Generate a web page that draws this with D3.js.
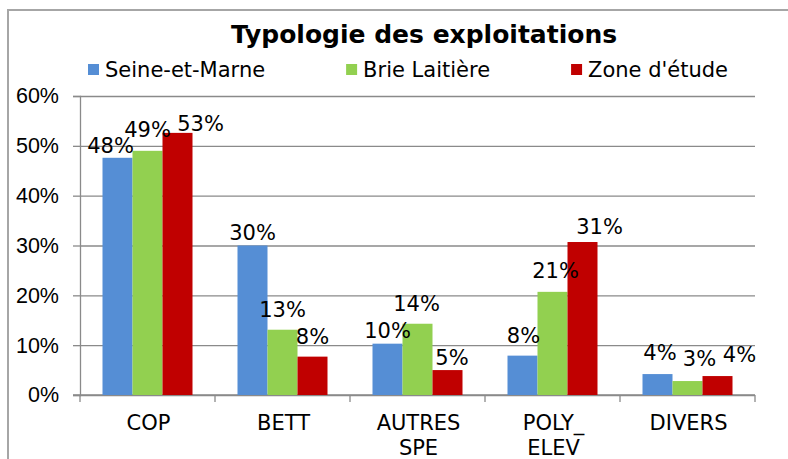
<!DOCTYPE html>
<html>
<head>
<meta charset="utf-8">
<script src="https://cdn.jsdelivr.net/npm/d3@7"></script>
<style>
  body { margin: 0; background: #fff; }
  svg { display: block; font-family: "DejaVu Sans", Verdana, sans-serif; }
</style>
</head>
<body>
<div id="app"></div>
<script>
const categories = [['COP'], ['BETT'], ['AUTRES', 'SPE'], ['POLY_', 'ELEV'], ['DIVERS']]
const seriesNames = ['Seine-et-Marne', 'Brie Laitière', "Zone d'étude"]
const seineEtMarne = [47.6, 30.0, 10.3, 7.9, 4.2]
const brieLaitiere = [49.0, 13.1, 14.3, 20.7, 2.8]
const zoneEtude = [52.6, 7.7, 5.0, 30.7, 3.8]
const yTicks = [0, 10, 20, 30, 40, 50, 60]
const colors = ['#558ed5', '#92d050', '#c00000']
// hand-moved data labels in the original (dx, dy from the default spot)
const labelNudge = [
    [[-7, 1.6], [0, 0], [0, 0], [1, -6.4], [2.5, -8]],
    [[0, -7.4], [0, -7], [-1, -7], [3, -7.4], [12, -9]],
    [[23, 4.4], [0, -6.7], [4.5, 1], [17, -1.7], [22, -8.3]],
]

const width = 788
const height = 459
const margin = { top: 96, left: 80, right: 33, bottom: 64 }
const values = [seineEtMarne, brieLaitiere, zoneEtude]
const keys = categories.map(c => c.join(' '))

const svg = d3.select('#app').append('svg')
    .attr('width', width)
    .attr('height', height)

// outer frame, only left and top edges are visible
svg.append('path')
    .attr('d', `M8,${height} V10 H${width}`)
    .attr('fill', 'none')
    .attr('stroke', '#a6a6a6')
    .attr('stroke-width', 2)

const x0 = d3.scaleBand()
    .domain(keys)
    .range([margin.left, width - margin.right])
    .paddingInner(0)
    .paddingOuter(0)

const x1 = d3.scaleBand()
    .domain(seriesNames)
    .range([22.5, x0.bandwidth() - 22.5])

const y = d3.scaleLinear()
    .domain([0, 60])
    .range([height - margin.bottom, margin.top])

// gridlines + y axis
const yAxis = g => g
    .attr('transform', `translate(${margin.left},0)`)
    .call(d3.axisLeft(y).tickValues(yTicks).tickSize(7).tickPadding(14).tickFormat(d => d + '%'))
    .call(g => g.selectAll('.tick line').clone()
        .attr('x2', width - margin.right - margin.left))
    .call(g => g.selectAll('line, path').attr('stroke', '#8a8a8a').attr('stroke-width', 1.3))
    .call(g => g.selectAll('text')
        .attr('fill', '#000')
        .attr('font-size', 21.5)
        .attr('font-family', null))

svg.append('g').call(yAxis)

// x axis with ticks between categories
const xAxis = svg.append('g')
xAxis.append('line')
    .attr('x1', margin.left - 7).attr('x2', width - margin.right)
    .attr('y1', y(0)).attr('y2', y(0))
    .attr('stroke', '#8a8a8a').attr('stroke-width', 1.3)
xAxis.selectAll('.xtick')
    .data(keys.map(k => x0(k)).concat([x0.range()[1]]))
    .join('line')
    .attr('x1', d => d).attr('x2', d => d)
    .attr('y1', y(0)).attr('y2', y(0) + 7)
    .attr('stroke', '#8a8a8a').attr('stroke-width', 1.3)

xAxis.selectAll('.cat')
    .data(categories)
    .join('text')
    .attr('text-anchor', 'middle')
    .attr('font-size', 21)
    .attr('fill', '#000')
    .attr('transform', (d, i) => `translate(${x0(keys[i]) + x0.bandwidth() / 2 + 1},${y(0) + 35})`)
    .selectAll('tspan')
    .data(d => d)
    .join('tspan')
    .attr('x', 0)
    .attr('y', (d, i) => i * 25)
    .text(d => d)

// bars
const groups = svg.append('g')
    .selectAll('g')
    .data(seriesNames)
    .join('g')
    .attr('fill', (d, i) => colors[i])

groups.selectAll('rect')
    .data((s, si) => values[si].map((v, ci) => ({ s, si, ci, v })))
    .join('rect')
    .attr('x', d => x0(keys[d.ci]) + x1(d.s))
    .attr('y', d => y(d.v))
    .attr('width', x1.bandwidth())
    .attr('height', d => y(0) - y(d.v))

// data labels
svg.append('g')
    .selectAll('text')
    .data(seriesNames.flatMap((s, si) => values[si].map((v, ci) => ({ s, si, ci, v }))))
    .join('text')
    .attr('text-anchor', 'middle')
    .attr('font-size', 21)
    .attr('fill', '#000')
    .attr('x', d => x0(keys[d.ci]) + x1(d.s) + x1.bandwidth() / 2 + labelNudge[d.si][d.ci][0])
    .attr('y', d => y(d.v) - 6 + labelNudge[d.si][d.ci][1])
    .text(d => Math.round(d.v) + '%')

// title
svg.append('text')
    .attr('x', 424)
    .attr('y', 43)
    .attr('text-anchor', 'middle')
    .attr('font-size', 25)
    .attr('font-weight', 'bold')
    .text('Typologie des exploitations')

// legend, items separated by equal gaps
const legend = svg.append('g')
let lx = 88
seriesNames.forEach((name, i) => {
    legend.append('rect')
        .attr('x', lx).attr('y', 64)
        .attr('width', 11).attr('height', 11)
        .attr('fill', colors[i])
    const t = legend.append('text')
        .attr('x', lx + 17).attr('y', 77)
        .attr('font-size', 21)
        .text(name)
    lx += 17 + t.node().getComputedTextLength() + 81
})
</script>
</body>
</html>
